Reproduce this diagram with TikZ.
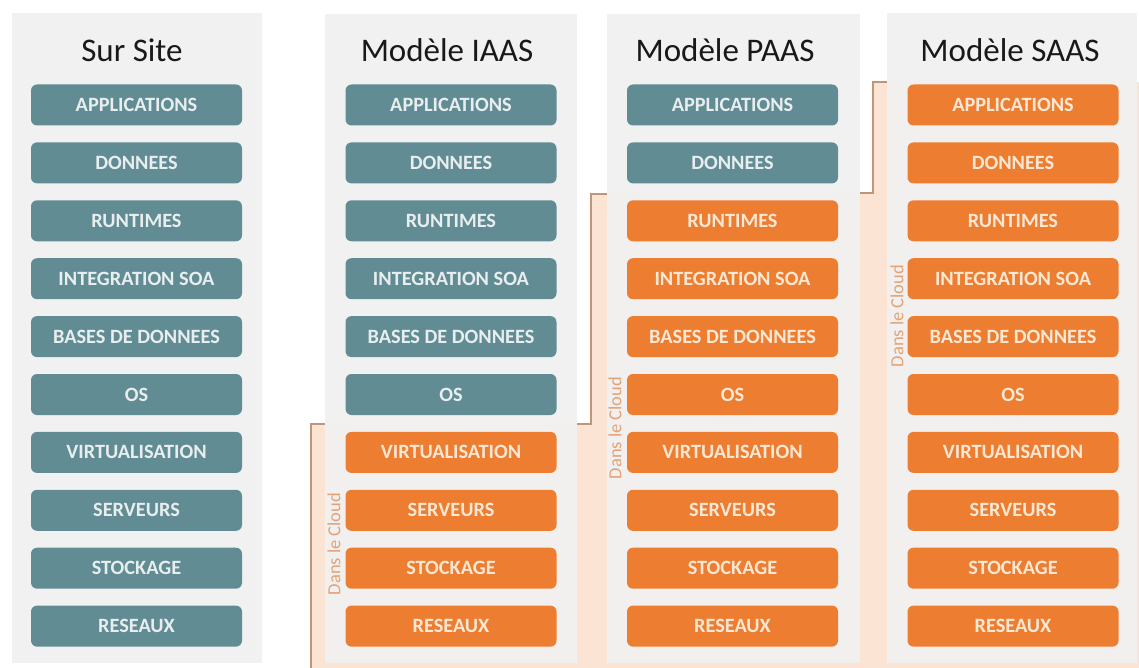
\documentclass[tikz,border=0pt]{standalone}
\usepackage{fontspec}
\setmainfont{Carlito}
\definecolor{tealbox}{HTML}{628C93}
\definecolor{tealtxt}{HTML}{E8EEEF}
\definecolor{orangebox}{HTML}{ED7D31}
\definecolor{orangetxt}{HTML}{FBE8D4}
\definecolor{panelgray}{HTML}{F1F1F1}
\definecolor{peach}{HTML}{FCE4D4}
\definecolor{bracketcol}{HTML}{C0967A}
\definecolor{cloudtxt}{HTML}{E3A277}
\tikzset{
  panel/.style={fill=panelgray, fill opacity=0.95, draw=none},
  layer/.style={rounded corners=6pt, minimum width=211pt, minimum height=41pt, inner sep=0pt,
    font=\fontsize{20.3}{21}\selectfont\bfseries},
  onsite/.style={layer, fill=tealbox, text=tealtxt},
  cloud/.style={layer, fill=orangebox, text=orangetxt},
  title/.style={font=\fontsize{33}{36}\selectfont, text=black!90},
  cloudlbl/.style={rotate=90, font=\fontsize{18.5}{19}\selectfont, text=cloudtxt},
  bracketline/.style={draw=bracketcol, line width=1.3pt}
}
\begin{document}
\begin{tikzpicture}[x=1pt,y=-1pt]
\useasboundingbox (0,0) rectangle (1139,668);
\fill[white] (0,0) rectangle (1139,668);
% cloud area
\fill[peach] (311,668) -- (311,424) -- (591,424) -- (591,194) -- (873,194) -- (873,82) -- (1139,82) -- (1139,668) -- cycle;
% panels
\fill[panel] (12,13) rectangle (262,663);
\fill[panel] (325,14) rectangle (577,663);
\fill[panel] (607,14) rectangle (860,663);
\fill[panel] (887,13) rectangle (1137,663);
% bracket lines
\draw[bracketline] (325,424) -- (311,424) -- (311,668);
\draw[bracketline] (577,424) -- (591,424) -- (591,194) -- (607,194);
\draw[bracketline] (860,193) -- (873,193) -- (873,82) -- (887,82);
% titles
\node[title] (tsur) at (132,50) {Sur Site};
\node[title] (tiaas) at (447,50) {Modèle IAAS};
\node[title] (tpaas) at (725,50) {Modèle PAAS};
\node[title] (tsaas) at (1010,50) {Modèle SAAS};
% layers
\foreach \lab [count=\i from 0] in {APPLICATIONS,DONNEES,RUNTIMES,INTEGRATION SOA,BASES DE DONNEES,OS,VIRTUALISATION,SERVEURS,STOCKAGE,RESEAUX}{
  \node[onsite] (sur\i) at (136.5,105+57.9*\i) {\lab};
  \ifnum\i<6
    \node[onsite] (iaas\i) at (451,105+57.9*\i) {\lab};
  \else
    \node[cloud] (iaas\i) at (451,105+57.9*\i) {\lab};
  \fi
  \ifnum\i<2
    \node[onsite] (paas\i) at (732.5,105+57.9*\i) {\lab};
  \else
    \node[cloud] (paas\i) at (732.5,105+57.9*\i) {\lab};
  \fi
  \node[cloud] (saas\i) at (1013,105+57.9*\i) {\lab};
}
% cloud labels
\node[cloudlbl] (ciaas) at (334,544) {Dans le Cloud};
\node[cloudlbl] (cpaas) at (615,428) {Dans le Cloud};
\node[cloudlbl] (csaas) at (897,316) {Dans le Cloud};
\end{tikzpicture}
\end{document}
